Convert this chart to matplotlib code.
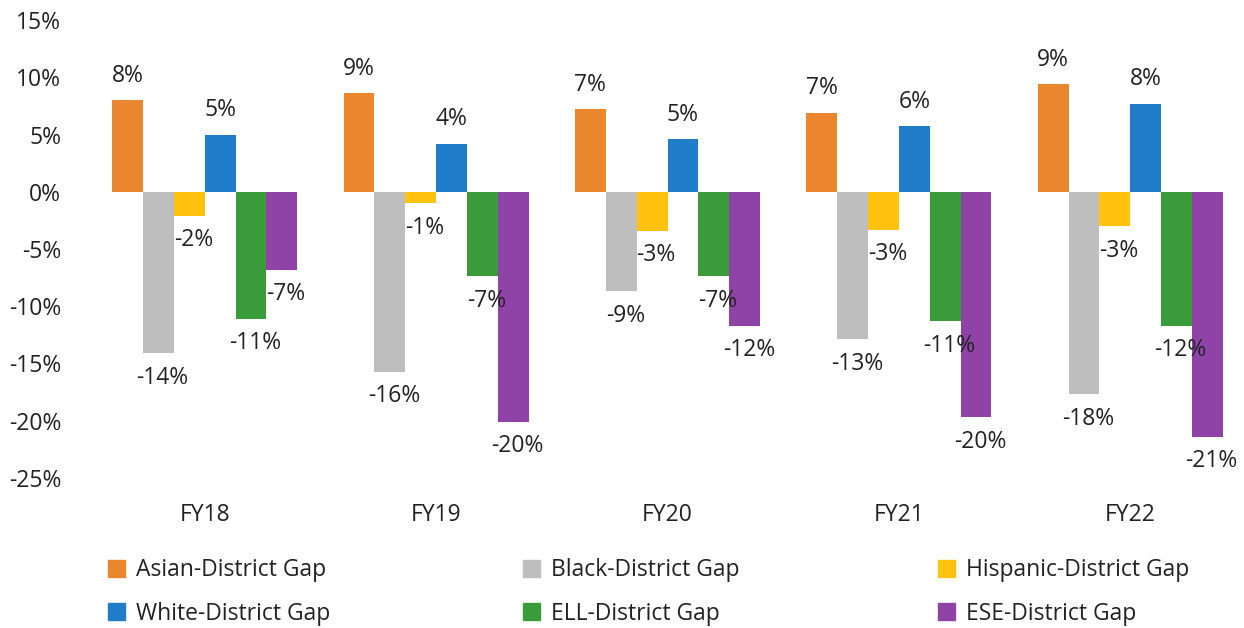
import matplotlib
matplotlib.use("Agg")
import matplotlib.pyplot as plt
import matplotlib.patches as mpatches
import numpy as np

plt.rcParams['font.family'] = ['Open Sans', 'DejaVu Sans']

# data (percent gap vs district)
years = ['FY18', 'FY19', 'FY20', 'FY21', 'FY22']
series = ['Asian-District Gap', 'Black-District Gap', 'Hispanic-District Gap',
          'White-District Gap', 'ELL-District Gap', 'ESE-District Gap']
asian = [8.0, 8.6, 7.2, 6.9, 9.4]
black = [-14.1, -15.7, -8.7, -12.9, -17.7]
hispanic = [-2.1, -1.0, -3.4, -3.3, -3.0]
white = [5.0, 4.2, 4.6, 5.7, 7.7]
ell = [-11.1, -7.4, -7.4, -11.3, -11.7]
ese = [-6.8, -20.1, -11.7, -19.7, -21.4]
values = [asian, black, hispanic, white, ell, ese]
colors = ['#EA862E', '#BEBEBE', '#FFC20E', '#1F7DC9', '#3A9B3A', '#8F43A6']

fig = plt.figure(figsize=(12.44, 6.28), dpi=100)
ax = fig.add_axes([89 / 1244, 150 / 628, 1157 / 1244, 458 / 628])

x = np.arange(len(years))
w = 0.8 / len(series)
handles = []
for i, (name, vals, c) in enumerate(zip(series, values, colors)):
    pos = x + (i - 2.5) * w
    bars = ax.bar(pos, vals, width=w, color=c, label=name)
    handles.append(mpatches.Patch(color=c, label=name))
    for b, v in zip(bars, vals):
        if v >= 0:
            ax.annotate(f'{round(v):.0f}%', (b.get_x() + b.get_width() / 2, v),
                        xytext=(0, 9), textcoords='offset points',
                        ha='center', va='bottom', fontsize=16.5, color='#222222')
        else:
            ax.annotate(f'{round(v):.0f}%', (b.get_x() + b.get_width() / 2, v),
                        xytext=(3, -9), textcoords='offset points',
                        ha='center', va='top', fontsize=16.5, color='#222222')

ax.set_xlim(-0.5, 4.5)
ax.set_ylim(-25, 15)
ax.set_yticks(range(-25, 16, 5))
ax.set_yticklabels([f'{t}%' for t in range(-25, 16, 5)])
ax.set_xticks(x)
ax.set_xticklabels(years)
ax.tick_params(axis='both', length=0, labelsize=16.5, colors='#222222')
ax.tick_params(axis='x', pad=18)
ax.tick_params(axis='y', pad=20)
for s in ax.spines.values():
    s.set_visible(False)

# legend: three columns, two rows
col_x = [99 / 1244, 514 / 1244, 929 / 1244]
for j in range(3):
    fig.legend(handles=[handles[j], handles[j + 3]], loc='upper left',
               bbox_to_anchor=(col_x[j], 1 - 549 / 628), frameon=False,
               fontsize=16.5, handlelength=0.75, handleheight=0.75,
               handletextpad=0.45, labelspacing=0.85, borderaxespad=0,
               labelcolor='#222222')

fig.savefig('out.png', dpi=100)
